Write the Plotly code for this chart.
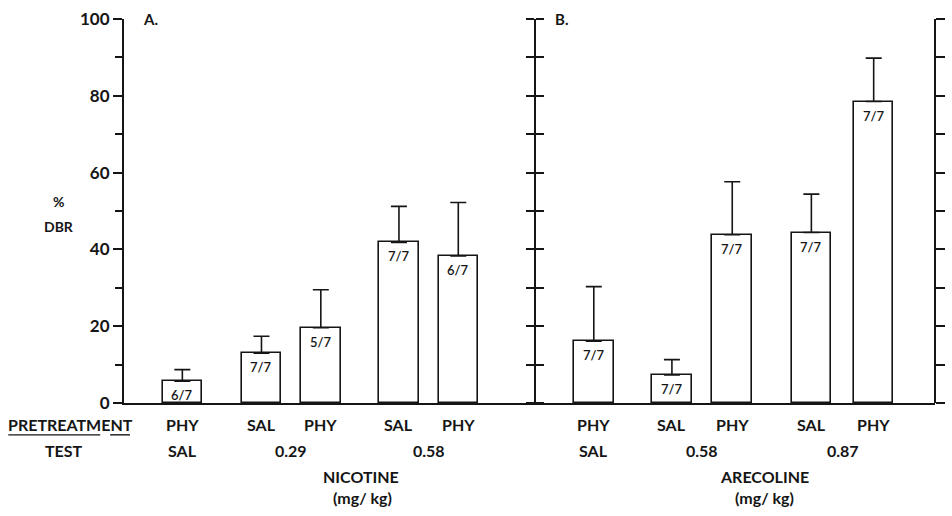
import plotly.graph_objects as go

# Percent DBR (mean and SEM) for each pretreatment / test condition
pretreat_a = ["PHY", "SAL", "PHY", "SAL", "PHY"]
nicotine_mean = [5.7, 13.0, 19.6, 41.8, 38.3]
nicotine_sem = [3.0, 4.4, 9.9, 9.4, 13.9]
nicotine_n = ["6/7", "7/7", "5/7", "7/7", "6/7"]
test_a = ["SAL", "0.29", "0.58"]

pretreat_b = ["PHY", "SAL", "PHY", "SAL", "PHY"]
arecoline_mean = [16.1, 7.3, 43.8, 44.4, 78.5]
arecoline_sem = [14.2, 4.0, 13.8, 10.0, 11.3]
arecoline_n = ["7/7", "7/7", "7/7", "7/7", "7/7"]
test_b = ["SAL", "0.58", "0.87"]

y_ticks = [0, 20, 40, 60, 80, 100]

# Layout slots along the x axis (1 unit = 1 px of plot width)
slots_a = [59, 139, 199, 278, 338]
slots_b = [475, 554, 615, 695, 758]
mid_axis = 416
x_span = 820
plot_h = 386
bar_w = 40

INK = "#151515"
FONT = "Lato"

fig = go.Figure()


def add_panel(slots, mean, sem):
    fig.add_trace(go.Bar(
        x=slots, y=mean, width=bar_w,
        marker=dict(color="white", line=dict(color=INK, width=1.6)),
        error_y=dict(type="data", symmetric=False, array=sem,
                     arrayminus=[0] * len(sem), color=INK,
                     thickness=1.6, width=8),
        showlegend=False, hoverinfo="skip",
    ))


add_panel(slots_a, nicotine_mean, nicotine_sem)
add_panel(slots_b, arecoline_mean, arecoline_sem)

# placeholder traces so the extra y axes are drawn
for ax in ["y2", "y3", "y4"]:
    fig.add_trace(go.Scatter(x=[None], y=[None], yaxis=ax,
                             showlegend=False, hoverinfo="skip"))

ann = []


def text(x, y, s, size=16, yshift=0, weight="bold", yanchor="middle"):
    # x in slot units, placed on paper so labels left of the axis still show
    ann.append(dict(x=x / x_span, y=y / 100, xref="paper", yref="paper",
                    text=s, showarrow=False, xanchor="center",
                    yanchor=yanchor, yshift=yshift,
                    font=dict(family=FONT, size=size, color=INK,
                              weight=weight)))


# count labels inside the top of each bar
for slots, mean, n in [(slots_a, nicotine_mean, nicotine_n),
                       (slots_b, arecoline_mean, arecoline_n)]:
    for x, m, s in zip(slots, mean, n):
        text(x, m, s, size=13, yshift=-4, weight=600, yanchor="top")

# pretreatment and test rows under the baseline
for slots, pre, test in [(slots_a, pretreat_a, test_a),
                         (slots_b, pretreat_b, test_b)]:
    for x, s in zip(slots, pre):
        text(x, 0, s, yshift=-21)
    text(slots[0], 0, test[0], yshift=-47)
    text((slots[1] + slots[2]) / 2, 0, test[1], yshift=-47)
    text((slots[3] + slots[4]) / 2, 0, test[2], yshift=-47)

text(-54, 0, "PRETREATMENT", yshift=-21)
text(-61, 0, "TEST", yshift=-47)
text(240, 0, "NICOTINE", yshift=-73)
text(241, 0, "(mg/ kg)", yshift=-94)
text(648, 0, "ARECOLINE", yshift=-73)
text(648, 0, "(mg/ kg)", yshift=-94)

text(-66, 52.5, "%", size=14)
text(-66, 46, "DBR", size=14)
text(27, 100, "A.", size=15)
text(442, 100, "B.", size=15)

fig.update_layout(annotations=ann)

# underline beneath PRETREATMENT (drawn in two strokes)
for x0, x1 in [(-117, -24), (-14, 6)]:
    fig.add_shape(type="line", xref="paper", yref="paper",
                  x0=x0 / x_span, x1=x1 / x_span,
                  y0=-32 / plot_h, y1=-32 / plot_h,
                  line=dict(color=INK, width=1.4))

tick_font = dict(family=FONT, size=17, color=INK, weight="bold")
minor_out = dict(dtick=10, ticks="outside", ticklen=7, tickwidth=1.6,
                 tickcolor=INK)

fig.update_layout(
    width=952, height=516,
    margin=dict(l=124, r=8, t=17, b=113),
    paper_bgcolor="white", plot_bgcolor="white",
    bargap=0,
    xaxis=dict(range=[0, x_span], showticklabels=False, ticks="",
               showgrid=False, zeroline=False, showline=True,
               linecolor=INK, linewidth=2),
    yaxis=dict(range=[0, 100], tickvals=y_ticks, ticks="outside",
               ticklen=9, tickwidth=1.8, tickcolor=INK, tickfont=tick_font,
               showgrid=False, zeroline=False, showline=True,
               linecolor=INK, linewidth=2, minor=minor_out),
    yaxis2=dict(range=[0, 100], overlaying="y", anchor="free",
                position=mid_axis / x_span, side="left",
                tickvals=y_ticks, ticks="outside", ticklen=8, tickwidth=1.8,
                tickcolor=INK, showticklabels=False, showgrid=False,
                zeroline=False, showline=True, linecolor=INK, linewidth=2,
                minor=dict(dtick=10, ticks="outside", ticklen=8,
                           tickwidth=1.8, tickcolor=INK)),
    yaxis3=dict(range=[0, 100], overlaying="y", anchor="free",
                position=mid_axis / x_span, side="right",
                tickvals=y_ticks, ticks="outside", ticklen=8, tickwidth=1.8,
                tickcolor=INK, showticklabels=False, showgrid=False,
                zeroline=False, showline=False,
                minor=dict(dtick=10, ticks="outside", ticklen=8,
                           tickwidth=1.8, tickcolor=INK)),
    yaxis4=dict(range=[0, 100], overlaying="y", anchor="free",
                position=1, side="right",
                tickvals=y_ticks, ticks="outside", ticklen=9, tickwidth=1.6,
                tickcolor=INK, showticklabels=False, showgrid=False,
                zeroline=False, showline=True, linecolor=INK, linewidth=2,
                minor=dict(dtick=10, ticks="outside", ticklen=9,
                           tickwidth=1.6, tickcolor=INK)),
)

fig.write_html("out.html")
